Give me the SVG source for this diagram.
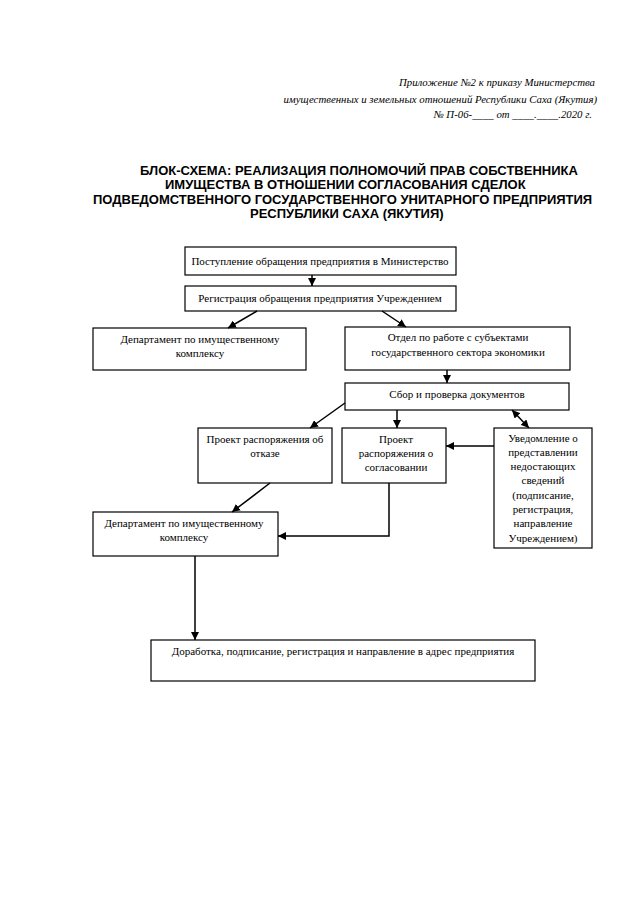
<svg xmlns="http://www.w3.org/2000/svg" width="640" height="905" viewBox="0 0 640 905">
<style>
.hdr{font-family:"Liberation Serif","Times New Roman",serif;font-style:italic;font-size:10.8px;fill:#000;text-anchor:end}
.ttl{font-family:"Liberation Sans",Arial,sans-serif;font-weight:bold;font-size:13px;fill:#000}
.box{fill:#fff;stroke:#000;stroke-width:1.2}
.lbl{font-family:"Liberation Serif","Times New Roman",serif;font-size:11px;fill:#000;text-anchor:middle}
.con{fill:none;stroke:#000;stroke-width:1.5}
</style>
<defs>
<marker id="ah" viewBox="0 0 10 10" refX="10" refY="5" markerWidth="8" markerHeight="8" markerUnits="userSpaceOnUse" orient="auto-start-reverse">
<path d="M0,0 L10,5 L0,10 z" fill="#000"/>
</marker>
</defs>
<rect width="640" height="905" fill="#fff"/>
<g id="header">
<text class="hdr" x="595" y="86">Приложение №2 к приказу Министерства</text>
<text class="hdr" x="597" y="103">имущественных и земельных отношений Республики Саха (Якутия)</text>
<text class="hdr" x="592" y="118">№ П-06-____ от ____.____.2020 г.</text>
</g>
<g id="title">
<text class="ttl" x="140" y="175">БЛОК-СХЕМА: РЕАЛИЗАЦИЯ ПОЛНОМОЧИЙ ПРАВ СОБСТВЕННИКА</text>
<text class="ttl" x="165" y="189">ИМУЩЕСТВА В ОТНОШЕНИИ СОГЛАСОВАНИЯ СДЕЛОК</text>
<text class="ttl" x="93" y="204">ПОДВЕДОМСТВЕННОГО ГОСУДАРСТВЕННОГО УНИТАРНОГО ПРЕДПРИЯТИЯ</text>
<text class="ttl" x="250" y="218">РЕСПУБЛИКИ САХА (ЯКУТИЯ)</text>
</g>
<g id="n1">
<rect class="box" x="185" y="247" width="271" height="28"/>
<text class="lbl" x="320" y="265">Поступление обращения предприятия в Министерство</text>
</g>
<g id="n2">
<rect class="box" x="185" y="286" width="271" height="25"/>
<text class="lbl" x="320" y="302">Регистрация обращения предприятия Учреждением</text>
</g>
<g id="n3">
<rect class="box" x="93" y="328" width="213" height="42"/>
<text class="lbl" x="200" y="343">Департамент по имущественному</text>
<text class="lbl" x="200" y="357">комплексу</text>
</g>
<g id="n4">
<rect class="box" x="345" y="327" width="225" height="43"/>
<text class="lbl" x="458" y="341">Отдел по работе с субъектами</text>
<text class="lbl" x="458" y="356">государственного сектора экономики</text>
</g>
<g id="n5">
<rect class="box" x="345" y="383" width="224" height="27"/>
<text class="lbl" x="457" y="398">Сбор и проверка документов</text>
</g>
<g id="n6">
<rect class="box" x="198" y="428" width="134" height="55"/>
<text class="lbl" x="265" y="443">Проект распоряжения об</text>
<text class="lbl" x="265" y="457">отказе</text>
</g>
<g id="n7">
<rect class="box" x="342" y="428" width="104" height="55"/>
<text class="lbl" x="396" y="443">Проект</text>
<text class="lbl" x="396" y="457">распоряжения о</text>
<text class="lbl" x="396" y="471">согласовании</text>
</g>
<g id="n8">
<rect class="box" x="494" y="428" width="98" height="120"/>
<text class="lbl" x="543" y="442">Уведомление о</text>
<text class="lbl" x="543" y="456">представлении</text>
<text class="lbl" x="543" y="470">недостающих</text>
<text class="lbl" x="543" y="484">сведений</text>
<text class="lbl" x="543" y="499">(подписание,</text>
<text class="lbl" x="543" y="513">регистрация,</text>
<text class="lbl" x="543" y="527">направление</text>
<text class="lbl" x="543" y="542">Учреждением)</text>
</g>
<g id="n9">
<rect class="box" x="93" y="512" width="185" height="44"/>
<text class="lbl" x="184" y="527">Департамент по имущественному</text>
<text class="lbl" x="184" y="541">комплексу</text>
</g>
<g id="n10">
<rect class="box" x="151" y="640" width="384" height="41"/>
<text class="lbl" x="343" y="655">Доработка, подписание, регистрация и направление в адрес предприятия</text>
</g>
<g id="connectors">
<line class="con" x1="312" y1="275" x2="312" y2="286" marker-end="url(#ah)"/>
<line class="con" x1="257" y1="311" x2="228" y2="328" marker-end="url(#ah)"/>
<line class="con" x1="382" y1="311" x2="406" y2="327" marker-end="url(#ah)"/>
<line class="con" x1="447" y1="370" x2="447" y2="383" marker-end="url(#ah)"/>
<line class="con" x1="345" y1="403" x2="310" y2="428" marker-end="url(#ah)"/>
<line class="con" x1="397" y1="410" x2="397" y2="428" marker-end="url(#ah)"/>
<line class="con" x1="494" y1="446" x2="446" y2="446" marker-end="url(#ah)"/>
<line class="con" x1="512" y1="410" x2="529" y2="428" marker-start="url(#ah)" marker-end="url(#ah)"/>
<line class="con" x1="270" y1="483" x2="232" y2="512" marker-end="url(#ah)"/>
<polyline class="con" points="389,483 389,536 278,536" marker-end="url(#ah)"/>
<line class="con" x1="195" y1="556" x2="195" y2="640" marker-end="url(#ah)"/>
</g>
</svg>
